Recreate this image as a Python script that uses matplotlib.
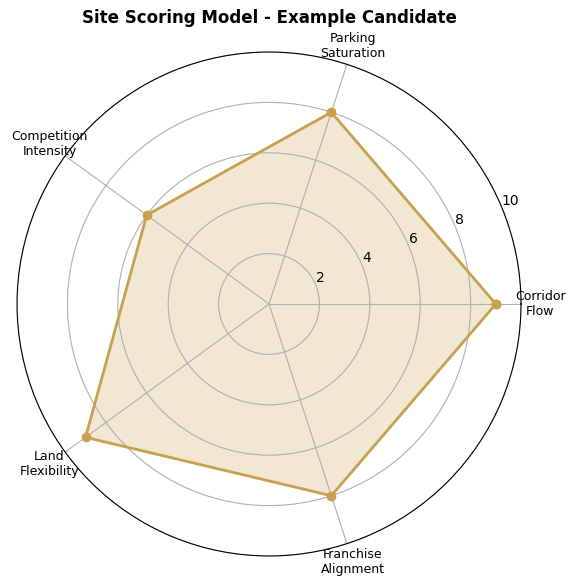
import numpy as np
import matplotlib
matplotlib.use('Agg')
import matplotlib.pyplot as plt

categories = ['Corridor\nFlow', 'Parking\nSaturation', 'Competition\nIntensity',
              'Land\nFlexibility', 'Franchise\nAlignment']
scores = [9, 8, 6, 9, 8]
r_ticks = [2, 4, 6, 8, 10]

color = '#C8A050'

angles = np.linspace(0, 2 * np.pi, len(categories), endpoint=False).tolist()
vals = scores + scores[:1]
ang = angles + angles[:1]

fig = plt.figure(figsize=(5.77, 5.88), dpi=100)
ax = fig.add_subplot(111, polar=True)
ax.plot(ang, vals, color=color, linewidth=2, marker='o', markersize=6)
ax.fill(ang, vals, color=color, alpha=0.25)
ax.set_xticks(angles)
ax.set_xticklabels(categories, fontsize=9)
ax.set_ylim(0, 10)
ax.set_yticks(r_ticks)
ax.set_yticklabels([str(t) for t in r_ticks], fontsize=10)
ax.grid(color='#b0b0b0', linewidth=0.8)
ax.set_title('Site Scoring Model - Example Candidate', fontsize=12, fontweight='bold')
fig.subplots_adjust(left=0.0295, right=0.903, top=0.9116, bottom=0.0544)

plt.savefig('out.png')
